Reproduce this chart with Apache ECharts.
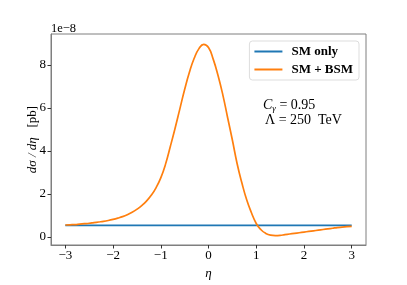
<!DOCTYPE html>
<html><head><meta charset="utf-8">
<script src="https://cdn.jsdelivr.net/npm/echarts@6/dist/echarts.min.js"></script>
<style>html,body{margin:0;padding:0;background:#fff}#c{width:407px;height:285px}</style>
</head><body><div id="c"></div>
<script>
const etaValues = [-3.0,-2.9,-2.8,-2.7,-2.6,-2.5,-2.4,-2.3,-2.2,-2.1,-2.0,-1.9,-1.8,-1.7,-1.6,-1.5,-1.4,-1.3,-1.2,-1.1,-1.0,-0.9,-0.8,-0.7,-0.6,-0.5,-0.4,-0.3,-0.2,-0.1,0.0,0.1,0.2,0.3,0.4,0.5,0.6,0.7,0.8,0.9,1.0,1.1,1.2,1.3,1.4,1.5,1.6,1.7,1.8,1.9,2.0,2.1,2.2,2.3,2.4,2.5,2.6,2.7,2.8,2.9,3.0];
const smOnly = [0.53,0.53,0.53,0.53,0.53,0.53,0.53,0.53,0.53,0.53,0.53,0.53,0.53,0.53,0.53,0.53,0.53,0.53,0.53,0.53,0.53,0.53,0.53,0.53,0.53,0.53,0.53,0.53,0.53,0.53,0.53,0.53,0.53,0.53,0.53,0.53,0.53,0.53,0.53,0.53,0.53,0.53,0.53,0.53,0.53,0.53,0.53,0.53,0.53,0.53,0.53,0.53,0.53,0.53,0.53,0.53,0.53,0.53,0.53,0.53,0.53];
const smBsm = [0.55,0.56,0.57,0.59,0.61,0.63,0.66,0.69,0.72,0.76,0.81,0.87,0.94,1.03,1.14,1.28,1.45,1.66,1.93,2.28,2.74,3.38,4.20,5.05,5.95,6.85,7.65,8.30,8.75,8.95,8.80,8.25,7.50,6.60,5.55,4.50,3.40,2.50,1.72,1.12,0.62,0.33,0.16,0.08,0.06,0.07,0.10,0.13,0.16,0.19,0.22,0.25,0.28,0.31,0.34,0.37,0.40,0.43,0.45,0.47,0.49];
const xTicks = [-3,-2,-1,0,1,2,3];
const yTicks = [0,2,4,6,8];
const seriesNames = ['SM only','SM + BSM'];

const FONT = '"Liberation Serif", "DejaVu Serif", serif';
const fmt = v => (v < 0 ? '\u2212' + Math.abs(v) : String(v));
const chart = echarts.init(document.getElementById('c'));
chart.setOption({
  animation: false,
  backgroundColor: '#fff',
  grid: {left: 51, right: 41, top: 34, bottom: 36, show: true, borderColor: '#7f7f7f', borderWidth: 1, backgroundColor: 'transparent'},
  xAxis: {
    type: 'value', min: -3.3, max: 3.3,
    axisLine: {show: true, onZero: false, lineStyle: {color: '#7f7f7f', width: 1}},
    axisTick: {show: true, length: 3.5, customValues: xTicks, lineStyle: {color: '#333'}},
    axisLabel: {customValues: xTicks, formatter: fmt, fontFamily: FONT, fontSize: 13, color: '#000', margin: 4},
    splitLine: {show: false},
    name: 'η', nameLocation: 'middle', nameGap: 22, nameMoveOverlap: false,
    nameTextStyle: {fontFamily: FONT, fontStyle: 'italic', fontSize: 13, color: '#000'}
  },
  yAxis: {
    type: 'value', min: -0.38, max: 9.43,
    axisLine: {show: true, onZero: false, lineStyle: {color: '#7f7f7f', width: 1}},
    axisTick: {show: true, length: 3.5, customValues: yTicks, lineStyle: {color: '#333'}},
    axisLabel: {customValues: yTicks, formatter: fmt, fontFamily: FONT, fontSize: 13, color: '#000', margin: 5},
    splitLine: {show: false},
    name: '{i|dσ / dη}   {n|[pb]}', nameLocation: 'middle', nameGap: 12, nameMoveOverlap: false,
    nameTextStyle: {fontFamily: FONT, fontSize: 13, color: '#000',
      rich: {i: {fontFamily: FONT, fontStyle: 'italic', fontSize: 13}, n: {fontFamily: FONT, fontSize: 13}}}
  },
  legend: {
    right: 48, top: 41, orient: 'vertical',
    itemWidth: 28, itemHeight: 2, itemGap: 5,
    padding: [4, 6, 4, 5],
    borderColor: '#ddd', borderWidth: 1, borderRadius: 3, backgroundColor: 'rgba(255,255,255,0.8)',
    textStyle: {fontFamily: FONT, fontWeight: 'bold', fontSize: 13, color: '#000', padding: [0,0,0,4]},
    data: seriesNames.map(n => ({name: n, icon: 'rect'}))
  },
  graphic: [
    {type: 'text', left: 51, top: 22, style: {text: '1e\u22128', font: '12.5px ' + FONT, fill: '#000'}},
    {type: 'text', left: 263, top: 98, style: {
      text: '{c|C}{s|γ}{n| = 0.95}',
      rich: {c: {fontFamily: FONT, fontStyle: 'italic', fontSize: 14}, s: {fontFamily: FONT, fontStyle: 'italic', fontSize: 9, verticalAlign: 'bottom', padding: [7,0,0,0]}, n: {fontFamily: FONT, fontSize: 14}}, fill: '#000'}},
    {type: 'text', left: 265, top: 113, style: {text: 'Λ = 250  TeV', font: '14px ' + FONT, fill: '#000'}}
  ],
  series: [
    {name: seriesNames[0], type: 'line', showSymbol: false, smooth: true, color: '#1f77b4',
     lineStyle: {width: 1.7}, data: etaValues.map((x, i) => [x, smOnly[i]])},
    {name: seriesNames[1], type: 'line', showSymbol: false, smooth: true, color: '#ff7f0e',
     lineStyle: {width: 1.7}, data: etaValues.map((x, i) => [x, smBsm[i]])}
  ]
});
</script></body></html>
